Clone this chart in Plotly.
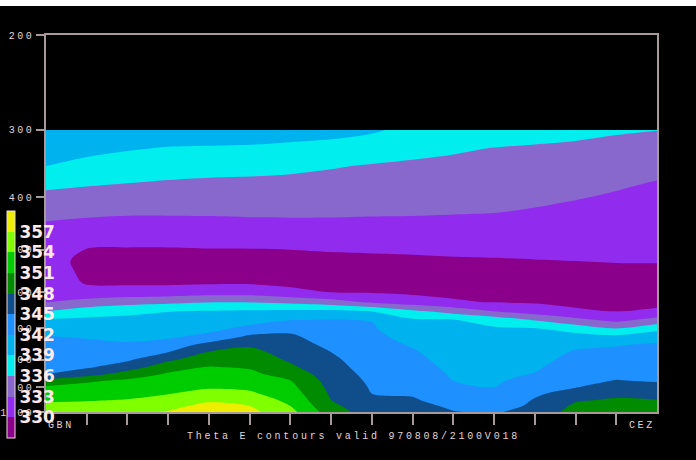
import plotly.graph_objects as go

# ---------------- data ----------------
section_points = list(range(16))          # GBN (0) ... CEZ (15)
pressure_levels = [300, 325, 350, 375, 400, 425, 450, 475, 500, 525, 550, 575, 600,
                   625, 650, 675, 700, 725, 750, 775, 800, 825, 850, 875, 900, 925,
                   950, 975, 1000]

theta_e = [
    [341.5, 341.4, 341.0, 340.8, 340.6, 340.5, 340.3, 340.0, 339.4, 338.2, 337.7, 337.3, 337.0, 336.7, 336.3, 336.05],
    [340.2, 339.8, 339.2, 338.8, 338.7, 338.6, 338.3, 338.0, 337.4, 336.7, 336.3, 335.9, 335.7, 335.5, 335.2, 334.9],
    [339.0, 338.1, 337.6, 337.2, 337.0, 336.9, 336.6, 336.2, 335.8, 335.6, 335.4, 335.1, 334.9, 334.7, 334.3, 333.8],
    [336.9, 336.4, 336.1, 335.8, 335.6, 335.5, 335.4, 335.2, 334.9, 334.8, 334.6, 334.4, 334.2, 333.9, 333.4, 332.9],
    [335.2, 335.0, 334.7, 334.6, 334.5, 334.5, 334.4, 334.3, 334.1, 334.0, 333.9, 333.7, 333.5, 333.15, 332.7, 332.35],
    [333.8, 333.6, 333.4, 333.4, 333.4, 333.5, 333.5, 333.4, 333.35, 333.3, 333.2, 333.1, 332.8, 332.4, 332.1, 331.85],
    [332.7, 332.3, 332.1, 332.1, 332.2, 332.3, 332.4, 332.5, 332.4, 332.4, 332.3, 332.2, 332.0, 331.8, 331.6, 331.4],
    [332.1, 331.1, 330.9, 330.9, 331.0, 331.1, 331.2, 331.3, 331.3, 331.3, 331.4, 331.3, 331.3, 331.2, 331.05, 330.95],
    [331.6, 329.9, 329.8, 329.8, 329.9, 329.9, 330.0, 330.2, 330.3, 330.4, 330.5, 330.5, 330.6, 330.6, 330.6, 330.5],
    [331.05, 329.3, 328.8, 328.8, 328.8, 328.8, 329.1, 329.25, 329.4, 329.5, 329.7, 329.8, 329.9, 330.0, 330.1, 330.1],
    [331.45, 329.4, 328.7, 328.6, 328.6, 328.6, 328.4, 328.3, 328.5, 328.8, 329.0, 329.1, 329.2, 329.4, 329.5, 329.6],
    [331.9, 329.7, 329.5, 329.5, 329.6, 329.6, 329.3, 329.15, 329.0, 328.8, 328.7, 328.6, 328.55, 328.8, 329.0, 329.0],
    [332.4, 330.9, 331.2, 331.3, 331.7, 331.7, 330.75, 330.0, 329.8, 329.5, 329.4, 329.2, 329.1, 328.95, 328.8, 328.9],
    [332.85, 334.0, 334.8, 335.3, 335.8, 335.8, 335.2, 334.2, 332.5, 331.35, 330.3, 329.85, 329.7, 329.5, 329.3, 329.5],
    [335.9, 337.4, 338.3, 338.9, 339.1, 339.3, 339.5, 339.6, 338.85, 336.5, 334.7, 332.9, 331.4, 330.3, 329.9, 330.3],
    [339.3, 339.6, 339.7, 339.9, 340.2, 340.9, 341.9, 342.1, 341.9, 339.4, 339.1, 337.8, 335.8, 333.8, 332.2, 334.0],
    [340.8, 340.7, 340.6, 340.8, 341.2, 342.75, 344.2, 342.9, 342.3, 340.2, 339.5, 339.3, 339.1, 337.7, 336.0, 338.1],
    [342.1, 341.8, 341.4, 341.6, 342.7, 345.6, 345.5, 343.6, 342.7, 341.0, 339.9, 339.65, 339.6, 340.0, 339.65, 340.9],
    [342.7, 342.6, 342.3, 343.1, 346.0, 347.6, 346.2, 344.3, 343.0, 341.75, 340.25, 340.0, 340.1, 341.35, 341.8, 342.3],
    [343.3, 343.3, 343.5, 345.0, 348.2, 348.8, 346.9, 345.0, 343.3, 342.3, 340.6, 340.4, 340.6, 342.3, 342.6, 342.8],
    [343.8, 343.9, 344.6, 347.5, 349.7, 349.7, 347.6, 345.5, 343.6, 342.7, 341.0, 340.7, 341.1, 342.9, 343.2, 343.35],
    [344.4, 344.6, 346.5, 349.7, 351.1, 350.7, 348.5, 345.9, 343.9, 343.2, 341.3, 341.0, 341.6, 343.4, 343.85, 343.85],
    [344.9, 346.6, 349.3, 351.3, 352.0, 351.6, 349.8, 346.35, 344.2, 343.6, 341.65, 341.35, 342.1, 343.9, 344.45, 344.35],
    [348.8, 350.6, 351.5, 352.2, 352.9, 352.6, 351.05, 346.8, 344.5, 344.0, 342.0, 341.65, 342.9, 344.4, 345.1, 344.8],
    [351.5, 351.9, 352.4, 353.1, 353.7, 353.5, 351.8, 347.2, 344.75, 344.4, 342.7, 342.0, 343.75, 344.9, 346.2, 345.75],
    [352.6, 352.9, 353.2, 353.9, 355.0, 354.45, 352.5, 347.6, 345.0, 344.8, 343.4, 342.4, 344.55, 346.25, 347.4, 346.95],
    [353.6, 353.8, 354.1, 354.9, 356.4, 355.6, 353.3, 348.0, 345.5, 345.2, 344.1, 342.9, 345.2, 347.7, 348.3, 348.05],
    [354.7, 354.8, 355.2, 356.0, 358.0, 357.0, 354.0, 348.7, 346.0, 345.75, 344.6, 343.6, 345.6, 348.5, 348.9, 348.7],
    [356.0, 355.8, 356.3, 357.3, 358.5, 357.8, 354.9, 349.45, 346.5, 346.3, 345.1, 344.7, 346.0, 349.2, 349.6, 349.4],
]

contour_levels = [330, 333, 336, 339, 342, 345, 348, 351, 354, 357]
band_colors = ["#8B008B", "#912CEE", "#8968CD", "#00EEEE", "#00B2EE", "#1E90FF",
               "#104E8B", "#008B00", "#00CD00", "#7FFF00", "#EEEE00"]
pressure_ticks = [200, 300, 400, 500, 600, 700, 800, 900, 1000]
pressure_labels = ["200", "300", "400", "500", "600", "700", "800", "900", "1000"]
inner_ticks = list(range(1, 15))
start_station = "GBN"
end_station = "CEZ"
caption = "Theta E contours valid 970808/2100V018"

# ---------------- styling ----------------
FRAME = "#a89a9a"
LABEL = "#e4d4d4"
n = len(band_colors)
colorscale = []
for i, c in enumerate(band_colors):
    colorscale.append([i / n, c])
    colorscale.append([(i + 1) / n, c])

step = contour_levels[1] - contour_levels[0]


def spaced(t, sp=2.4):
    return f'<span style="letter-spacing:{sp}px">{t}</span>'


fig = go.Figure()
fig.add_trace(go.Contour(
    x=section_points,
    y=pressure_levels,
    z=theta_e,
    colorscale=colorscale,
    zmin=contour_levels[0] - step,
    zmax=contour_levels[-1] + step,
    zauto=False,
    autocontour=False,
    contours=dict(start=contour_levels[0], end=contour_levels[-1], size=step,
                  coloring="fill", showlines=False),
    line=dict(width=0, smoothing=0.9),
    hoverinfo="skip",
    colorbar=dict(
        x=-0.0638, xanchor="left", xpad=0,
        y=0.232, yanchor="middle", ypad=0,
        len=227, lenmode="pixels",
        thickness=8,
        outlinecolor="#f0d8d8", outlinewidth=1,
        tickmode="array", tickvals=contour_levels,
        ticktext=[str(v) for v in contour_levels],
        ticks="", ticklen=0,
        tickfont=dict(family="DejaVu Sans", size=17, color="#ffe8e8", weight="bold"),
        bgcolor="rgba(0,0,0,0)", borderwidth=0,
    ),
))

fig.update_layout(
    width=696, height=460,
    margin=dict(l=46, r=39, t=35, b=48, pad=0, autoexpand=False),
    paper_bgcolor="black", plot_bgcolor="black",
    showlegend=False,
    xaxis=dict(
        range=[section_points[0], section_points[-1]],
        showgrid=False, zeroline=False,
        showline=True, linecolor=FRAME, linewidth=1.5, mirror=True,
        tickmode="array", tickvals=inner_ticks, ticktext=["" for _ in inner_ticks],
        ticks="outside", ticklen=11, tickcolor=FRAME, tickwidth=1.5,
    ),
    yaxis=dict(
        type="log",
        range=[3.0, 2.30103],
        showgrid=False, zeroline=False,
        showline=True, linecolor=FRAME, linewidth=1.5, mirror=True,
        tickmode="array", tickvals=pressure_ticks,
        ticktext=[spaced(t, 2.5) for t in pressure_labels],
        ticks="outside", ticklen=8, tickcolor=FRAME, tickwidth=1.5,
        tickfont=dict(family="Liberation Mono", size=10, color=LABEL),
    ),
    annotations=[
        dict(x=section_points[0], xref="x", y=-0.037, yref="paper", xanchor="left",
             yanchor="middle", showarrow=False, text=spaced(start_station, 2.6),
             font=dict(family="Liberation Mono", size=10, color=LABEL)),
        dict(x=section_points[-1], xref="x", y=-0.037, yref="paper", xanchor="right",
             yanchor="middle", showarrow=False, text=spaced(end_station, 2.6),
             font=dict(family="Liberation Mono", size=10, color=LABEL)),
        dict(x=0.5025, xref="paper", y=-0.064, yref="paper", xanchor="center",
             yanchor="middle", showarrow=False, text=spaced(caption, 2.76),
             font=dict(family="Liberation Mono", size=10, color=LABEL)),
    ],
    shapes=[
        dict(type="rect", xref="paper", yref="paper", x0=-0.2, x1=1.2,
             y0=1.0769, y1=1.2, fillcolor="white", line=dict(width=0), layer="above"),
    ],
)

fig.write_html("out.html", config={"displayModeBar": False},
               post_script="document.body.style.margin='0px';")
